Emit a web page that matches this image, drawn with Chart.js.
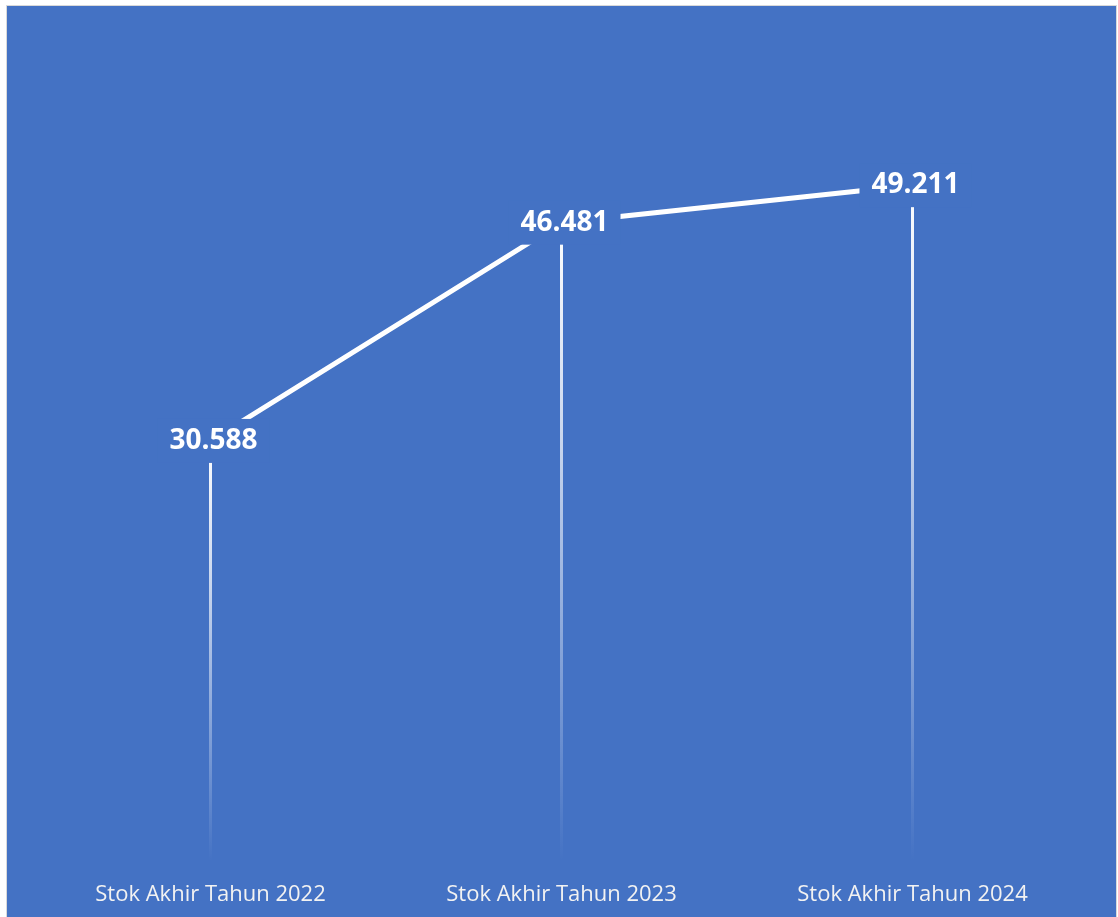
<!DOCTYPE html>
<html>
<head>
<meta charset="utf-8">
<script src="https://cdn.jsdelivr.net/npm/chart.js@4/dist/chart.umd.min.js"></script>
<style>
  html, body { margin: 0; padding: 0; background: #fff; }
  #wrap { width: 1118px; height: 917px; position: relative; }
</style>
</head>
<body>
<div id="wrap"><canvas id="stokChart" width="1118" height="917"></canvas></div>
<script>
const categories = ['Stok Akhir Tahun 2022', 'Stok Akhir Tahun 2023', 'Stok Akhir Tahun 2024'];
const stokValues = [30588, 46481, 49211];
const valueLabels = ['30.588', '46.481', '49.211'];

const BLUE = '#4472C4';

// background with thin grey frame
const backgroundPlugin = {
    id: 'bg',
    beforeDraw(chart) {
        const ctx = chart.ctx;
        ctx.save();
        ctx.fillStyle = '#ffffff';
        ctx.fillRect(0, 0, chart.width, chart.height);
        ctx.fillStyle = '#D9D9D9';
        ctx.fillRect(6, 5, 1111, 913);
        ctx.fillStyle = BLUE;
        ctx.fillRect(7, 6, 1109, 912);
        ctx.restore();
    }
};

// fading drop lines from each point down to the axis
const dropLinePlugin = {
    id: 'dropLines',
    beforeDatasetsDraw(chart) {
        const ctx = chart.ctx;
        const bottom = chart.chartArea.bottom;
        const meta = chart.getDatasetMeta(0);
        ctx.save();
        meta.data.forEach(pt => {
            const grad = ctx.createLinearGradient(0, pt.y, 0, bottom);
            grad.addColorStop(0, 'rgba(255,255,255,1)');
            grad.addColorStop(0.35, 'rgba(255,255,255,0.7)');
            grad.addColorStop(1, 'rgba(255,255,255,0)');
            ctx.strokeStyle = grad;
            ctx.lineWidth = 3;
            ctx.beginPath();
            ctx.moveTo(Math.round(pt.x) - 0.5, pt.y);
            ctx.lineTo(Math.round(pt.x) - 0.5, bottom);
            ctx.stroke();
        });
        ctx.restore();
    }
};

// value labels on a blue box that hides the line behind them
const valueLabelPlugin = {
    id: 'valueLabels',
    afterDatasetsDraw(chart) {
        const ctx = chart.ctx;
        const meta = chart.getDatasetMeta(0);
        ctx.save();
        ctx.font = 'bold 28px "Open Sans", "Noto Sans", sans-serif';
        ctx.textAlign = 'center';
        ctx.textBaseline = 'middle';
        meta.data.forEach((pt, i) => {
            const text = valueLabels[i];
            const w = ctx.measureText(text).width + 24;
            const h = 44;
            const cx = pt.x + 3;
            ctx.fillStyle = BLUE;
            ctx.fillRect(cx - w / 2, pt.y - h / 2, w, h);
            ctx.fillStyle = '#ffffff';
            ctx.fillText(text, cx, pt.y);
        });
        ctx.restore();
    }
};

new Chart(document.getElementById('stokChart'), {
    type: 'line',
    data: {
        labels: categories,
        datasets: [{
            data: stokValues,
            borderColor: '#ffffff',
            borderWidth: 5,
            pointRadius: 0,
            pointHoverRadius: 0,
            tension: 0,
            fill: false
        }]
    },
    options: {
        responsive: false,
        animation: false,
        events: [],
        layout: {
            padding: { left: 35, right: 30, top: 37, bottom: 0 }
        },
        plugins: {
            legend: { display: false },
            tooltip: { enabled: false }
        },
        scales: {
            x: {
                offset: true,
                grid: { display: false, drawTicks: false },
                border: { display: false },
                afterFit(scale) { scale.height = 56; },
                ticks: {
                    color: '#F2F2F2',
                    padding: 21,
                    font: { family: '"Open Sans", "Noto Sans", sans-serif', size: 22 }
                }
            },
            y: {
                display: false,
                min: 0,
                max: 60000
            }
        }
    },
    plugins: [backgroundPlugin, dropLinePlugin, valueLabelPlugin]
});
</script>
</body>
</html>
